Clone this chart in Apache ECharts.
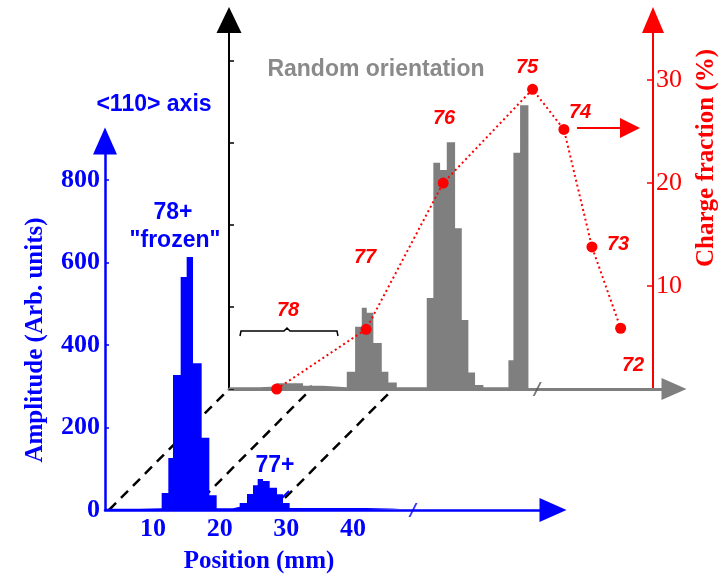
<!DOCTYPE html>
<html><head><meta charset="utf-8">
<script src="https://cdn.jsdelivr.net/npm/echarts@6/dist/echarts.min.js"></script>
<style>html,body{margin:0;padding:0;background:#fff}#c{width:720px;height:578px}</style>
</head><body><div id="c"></div>
<script>
// ---- <110> axis (blue) histogram: bin left edges (mm) and amplitudes (arb. units)
const blueEdges = [2.8, 8.0, 11.3, 12.3, 13.0, 14.15, 15.05, 16.0, 17.3, 18.45, 19.55, 22.0, 23.0, 24.1, 25.0, 25.7, 26.5, 27.5, 28.6, 29.5, 30.5, 36.0, 42.0, 47.0];
const blueAmp   = [3, 4, 41, 126, 327, 565, 613, 356, 175, 36, 4, 8, 17, 39, 60, 75, 70, 54, 38, 17, 5, 5, 3, 0];
const blueYTicks = [0, 200, 400, 600, 800];
const blueXLabels = [10, 20, 30, 40];
const blueBreak = 49.0;

// ---- Random orientation (gray) histogram: bin left edges (mm) and counts
const grayEdges  = [3.4, 8.0, 10.5, 14.5, 17.5, 21.05, 22.3, 23.3, 24.05, 25.04, 26.3, 27.29, 28.55, 33.04, 34.03, 35.04, 36.04, 37.29, 38.29, 39.28, 40.28, 41.53, 45.28, 46.03, 47.03, 48.28];
const grayCounts = [2, 3, 7, 4, 2, 21, 76, 99, 93, 56, 21, 8, 2, 111, 276, 267, 301, 196, 84, 20, 5, 2, 35, 288, 346, 0];
const grayXTicks = [15.7, 28.0];
const grayBreak = 49.6;

// ---- Charge fraction (red)
const chargeStates = ['78', '77', '76', '75', '74', '73', '72'];
const chargePos    = [10.55, 23.95, 35.5, 48.9, 53.6, 57.8, 62.1];
const chargeFrac   = [0.0, 5.8, 20.0, 29.1, 25.2, 13.8, 5.9];
const redTicks = [10, 20, 30];

// dashed perspective links (mm on blue axis -> mm on gray axis)
const linkPos = [3.4, 15.7, 28.0];

const BLUE = '#0000ff', RED = '#ff0000', GRAY = '#7f7f7f';
const SERIF = '"Liberation Serif", "Times New Roman", serif';
const SANS = '"Liberation Sans", Arial, sans-serif';

const chart = echarts.init(document.getElementById('c'), null, {renderer: 'canvas'});

const slash = 'path://M7,0 L9,0 L2,14 L0,14 Z';

const option = {
  animation: false,
  backgroundColor: '#fff',
  grid: [
    {left: 105, right: 167, top: 141, bottom: 68, containLabel: false},
    {left: 229, right: 46, top: 20, bottom: 189, containLabel: false}
  ],
  xAxis: [
    {
      gridIndex: 0, type: 'value', min: 2.8, max: 70,
      axisLine: {show: true, lineStyle: {color: BLUE, width: 2.5}, symbol: ['none', 'triangle'], symbolSize: [24, 27]},
      axisTick: {show: false},
      axisLabel: {customValues: blueXLabels, color: BLUE, fontFamily: SERIF, fontWeight: 'bold', fontSize: 26, margin: 6},
      splitLine: {show: false}
    },
    {
      gridIndex: 1, type: 'value', min: 3.4, max: 70.1,
      axisLine: {show: true, lineStyle: {color: GRAY, width: 3}, symbol: ['none', 'triangle'], symbolSize: [22, 25]},
      axisTick: {show: true, customValues: grayXTicks, inside: true, length: 4, lineStyle: {color: GRAY, width: 1.5}},
      axisLabel: {show: false},
      splitLine: {show: false}
    }
  ],
  yAxis: [
    {
      gridIndex: 0, type: 'value', min: 0, max: 894.5, interval: 200,
      axisLine: {show: true, lineStyle: {color: BLUE, width: 2.5}, symbol: ['none', 'triangle'], symbolSize: [24, 27]},
      axisTick: {show: true, inside: true, length: 4, lineStyle: {color: BLUE, width: 1.5}},
      axisLabel: {customValues: blueYTicks, color: BLUE, fontFamily: SERIF, fontWeight: 'bold', fontSize: 26, margin: 5},
      splitLine: {show: false}
    },
    {
      gridIndex: 1, type: 'value', min: 0, max: 450, interval: 100,
      axisLine: {show: true, lineStyle: {color: '#000', width: 2}, symbol: ['none', 'triangle'], symbolSize: [25, 26]},
      axisTick: {show: true, inside: true, length: 5, lineStyle: {color: '#000', width: 1.5}},
      axisLabel: {show: false},
      splitLine: {show: false}
    },
    {
      gridIndex: 1, type: 'value', position: 'right', offset: -21, min: 0, max: 35.83, interval: 10,
      axisLine: {show: true, onZero: false, lineStyle: {color: RED, width: 2}, symbol: ['none', 'triangle'], symbolSize: [22, 26]},
      axisTick: {show: true, customValues: redTicks, inside: true, length: 6, lineStyle: {color: RED, width: 1.5}},
      axisLabel: {customValues: redTicks, color: RED, fontFamily: SERIF, fontSize: 26, margin: 3},
      splitLine: {show: false}
    }
  ],
  series: [
    {
      type: 'line', name: 'gray', xAxisIndex: 1, yAxisIndex: 1, step: 'end', symbol: 'none',
      data: grayEdges.map((e, i) => [e, grayCounts[i]]),
      lineStyle: {width: 0, color: GRAY}, areaStyle: {color: GRAY, opacity: 1}, z: 3
    },
    {
      type: 'line', name: 'blue', xAxisIndex: 0, yAxisIndex: 0, step: 'end', symbol: 'none',
      data: blueEdges.map((e, i) => [e, blueAmp[i]]),
      lineStyle: {width: 0, color: BLUE}, areaStyle: {color: BLUE, opacity: 1}, z: 3
    },
    {
      type: 'line', name: 'charge', xAxisIndex: 1, yAxisIndex: 2, symbol: 'circle', symbolSize: 11,
      data: chargePos.map((p, i) => [p, chargeFrac[i]]),
      lineStyle: {width: 2, color: RED, type: [2, 3]}, itemStyle: {color: RED}, z: 5
    },
    {
      type: 'scatter', xAxisIndex: 0, yAxisIndex: 0, symbol: slash, symbolSize: [9, 14],
      data: [[blueBreak, 0]], itemStyle: {color: BLUE}, z: 6, silent: true
    },
    {
      type: 'scatter', xAxisIndex: 1, yAxisIndex: 1, symbol: slash, symbolSize: [9, 14],
      data: [[grayBreak, 0]], itemStyle: {color: '#555'}, z: 6, silent: true
    }
  ]
};
chart.setOption(option);

function txt(text, x, y, font, fill, rot) {
  return {type: 'text', x: x, y: y, rotation: rot || 0, z: 10,
    style: {text: text, font: font, fill: fill, align: 'center', verticalAlign: 'middle', textAlign: 'center', textVerticalAlign: 'middle'}};
}

const g = [];
// dashed perspective lines
linkPos.forEach(function (m) {
  const a = chart.convertToPixel({gridIndex: 0}, [m, 0]);
  const b = chart.convertToPixel({gridIndex: 1}, [m, 0]);
  g.push({type: 'line', z: -1, shape: {x1: a[0], y1: a[1], x2: b[0], y2: b[1]},
    style: {stroke: '#000', lineWidth: 2.5, lineDash: [10, 7]}});
});
// annotations
g.push(txt('<110> axis', 154, 105, 'bold 23px ' + SANS, BLUE));
g.push(txt('78+', 173, 213, 'bold 23px ' + SANS, BLUE));
g.push(txt('"frozen"', 175, 241, 'bold 23px ' + SANS, BLUE));
g.push(txt('77+', 275, 466, 'bold 23px ' + SANS, BLUE));
g.push(txt('Random orientation', 376, 70, 'bold 23px ' + SANS, '#8a8a8a'));
g.push(txt('Amplitude (Arb. units)', 36, 340, 'bold 25px ' + SERIF, BLUE, Math.PI / 2));
g.push(txt('Position (mm)', 259, 562, 'bold 25px ' + SERIF, BLUE));
g.push(txt('Charge fraction (%)', 707, 158, 'bold 25px ' + SERIF, RED, Math.PI / 2));
const stateLabelXY = [[288, 310], [365, 257], [444, 118], [527, 67], [580, 112], [618, 244], [633, 365]];
chargeStates.forEach(function (s, i) {
  g.push(txt(s, stateLabelXY[i][0], stateLabelXY[i][1], 'italic bold 20px ' + SANS, RED));
});
// bracket over 78
g.push({type: 'polyline', z: 10, shape: {points: [[240, 336], [241, 331], [284, 331], [287, 328], [290, 331], [337, 331], [338, 336]]},
  style: {stroke: '#000', lineWidth: 1.5, fill: null}});
// red arrow to the charge axis
g.push({type: 'line', z: 10, shape: {x1: 577, y1: 128, x2: 624, y2: 128}, style: {stroke: RED, lineWidth: 2}});
g.push({type: 'polygon', z: 10, shape: {points: [[620, 118], [640, 128], [620, 138]]}, style: {fill: RED}});
// small pointer near 77+
g.push({type: 'line', z: 10, shape: {x1: 281, y1: 499, x2: 289, y2: 491}, style: {stroke: BLUE, lineWidth: 2}});

chart.setOption({graphic: g});
</script>
</body></html>
